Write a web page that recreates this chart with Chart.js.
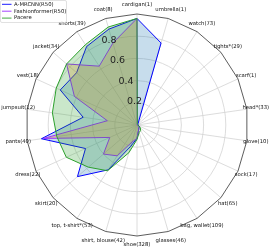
<!DOCTYPE html>
<html><head><meta charset="utf-8">
<script src="https://cdn.jsdelivr.net/npm/chart.js@4/dist/chart.umd.min.js"></script>
<style>html,body{margin:0;padding:0;background:#fff;}#wrap{width:270px;height:249px;position:relative;}</style>
</head><body><div id="wrap"><canvas id="c" width="270" height="249"></canvas></div>
<script>
const categories = ['cardigan(1)','umbrella(1)','watch(73)','tights*(29)','scarf(1)','head*(33)','glove(10)','sock(17)','hat(65)','bag, wallet(109)','glasses(46)','shoe(328)','shirt, blouse(42)','top, t-shirt*(53)','skirt(20)','dress(22)','pants(40)','jumpsuit(12)','vest(18)','jacket(34)','shorts(39)','coat(8)'];
const seriesNames = ['A-MRCNN(R50)','Fashionformer(R50)','Pacere'];
const amrcnn        = [0.96,0.77,0.02,0.01,0.01,0.01,0.01,0.02,0.03,0.03,0.05,0.12,0.20,0.48,0.71,0.51,0.87,0.49,0.76,0.72,0.84,0.90];
const fashionformer = [0.96,0.01,0.00,0.00,0.00,0.00,0.00,0.01,0.02,0.03,0.05,0.12,0.16,0.33,0.40,0.27,0.85,0.27,0.62,0.84,0.63,0.77];
const pacere        = [0.96,0.01,0.01,0.01,0.01,0.01,0.01,0.02,0.04,0.06,0.07,0.13,0.26,0.49,0.58,0.70,0.73,0.77,0.80,0.84,0.86,0.92];
const tickValues = [0.2,0.4,0.6,0.8];

const lineColors = ['#0000ff','#9b30ff','#2ca02c'];
const fillColors = ['rgba(31,119,180,0.25)','rgba(255,127,14,0.25)','rgba(44,160,44,0.25)'];
const FONT = '"DejaVu Sans", sans-serif';

const overlay = {
  id: 'overlay',
  afterDraw(chart) {
    const s = chart.scales.r;
    const ctx = chart.ctx;
    ctx.save();
    const R = s.getDistanceFromCenterForValue(1);
    ctx.beginPath();
    for (let i = 0; i < categories.length; i++) {
      const p = s.getPointPosition(i, R);
      if (i === 0) ctx.moveTo(p.x, p.y); else ctx.lineTo(p.x, p.y);
    }
    ctx.closePath();
    ctx.strokeStyle = '#333';
    ctx.lineWidth = 0.8;
    ctx.stroke();
    ctx.fillStyle = '#222';
    ctx.font = '9.5px ' + FONT;
    ctx.textAlign = 'center';
    ctx.textBaseline = 'middle';
    const a = 22.5 * Math.PI / 180;
    tickValues.forEach(v => {
      const r = s.getDistanceFromCenterForValue(v);
      ctx.fillText(String(v), s.xCenter + 6 - r * Math.sin(a), s.yCenter - 2.5 - r * Math.cos(a));
    });
    ctx.font = '5.3px ' + FONT;
    ctx.fillStyle = '#111';
    categories.forEach((c, i) => {
      const p = s.getPointPosition(i, R + 9);
      ctx.fillText(c, p.x, p.y);
    });
    ctx.fillStyle = 'rgba(255,255,255,0.8)';
    ctx.strokeStyle = '#ccc';
    ctx.lineWidth = 0.6;
    ctx.beginPath();
    ctx.roundRect(0.5, 0.5, 66, 22, 1.5);
    ctx.fill();
    ctx.stroke();
    ctx.textAlign = 'left';
    seriesNames.forEach((n, i) => {
      const y = 4.3 + i * 6.9;
      ctx.strokeStyle = lineColors[i];
      ctx.lineWidth = 0.9;
      ctx.beginPath();
      ctx.moveTo(2, y); ctx.lineTo(11.5, y); ctx.stroke();
      ctx.fillStyle = '#111';
      ctx.fillText(n, 14, y);
    });
    ctx.restore();
  }
};

new Chart(document.getElementById('c'), {
  type: 'radar',
  data: {
    labels: categories,
    datasets: [
      {label: seriesNames[0], data: amrcnn, borderColor: lineColors[0], backgroundColor: fillColors[0], fill: true, borderWidth: 1, pointRadius: 0, order: 3},
      {label: seriesNames[1], data: fashionformer, borderColor: lineColors[1], backgroundColor: fillColors[1], fill: true, borderWidth: 1, pointRadius: 0, order: 2},
      {label: seriesNames[2], data: pacere, borderColor: lineColors[2], backgroundColor: fillColors[2], fill: true, borderWidth: 1, pointRadius: 0, order: 1}
    ]
  },
  options: {
    responsive: false,
    animation: false,
    devicePixelRatio: 1,
    layout: {padding: {left: 26, right: 22, top: 14, bottom: 13}},
    plugins: {legend: {display: false}, tooltip: {enabled: false}},
    elements: {line: {tension: 0}},
    scales: {
      r: {
        min: 0, max: 1,
        ticks: {display: false, stepSize: 0.2},
        pointLabels: {display: false},
        grid: {circular: true, color: (c) => (c.tick && c.tick.value >= 1) ? 'rgba(0,0,0,0)' : '#d3d3d3', lineWidth: 0.8},
        angleLines: {color: '#d3d3d3', lineWidth: 0.8}
      }
    }
  },
  plugins: [overlay]
});
</script></body></html>
